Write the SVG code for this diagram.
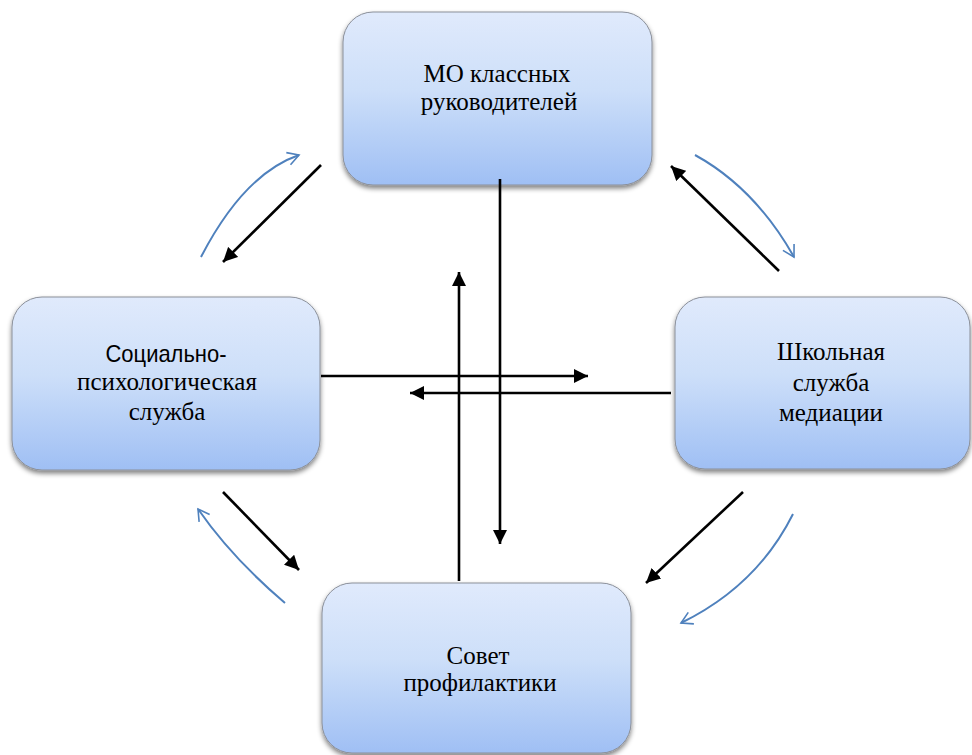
<svg xmlns="http://www.w3.org/2000/svg" width="972" height="755" viewBox="0 0 972 755">
<defs>
<linearGradient id="g" x1="0" y1="0" x2="0" y2="1">
<stop offset="0" stop-color="#e0eafc"/>
<stop offset="0.45" stop-color="#cddff9"/>
<stop offset="1" stop-color="#9fbff4"/>
</linearGradient>
<filter id="sh" x="-10%" y="-10%" width="120%" height="125%">
<feGaussianBlur in="SourceAlpha" stdDeviation="2.5"/>
<feOffset dx="0" dy="3" result="b"/>
<feComponentTransfer><feFuncA type="linear" slope="0.5"/></feComponentTransfer>
<feMerge><feMergeNode/><feMergeNode in="SourceGraphic"/></feMerge>
</filter>
<marker id="ah" viewBox="0 0 10 10" refX="10" refY="5" markerWidth="5.5" markerHeight="5.5" markerUnits="strokeWidth" orient="auto">
<path d="M0,0 L10,5 L0,10 Z" fill="#000"/>
</marker>
<marker id="oh" viewBox="0 0 20 20" refX="18" refY="10" markerWidth="16" markerHeight="16" markerUnits="userSpaceOnUse" orient="auto">
<path d="M4,2 L18,10 L4,18" fill="none" stroke="#4f81bd" stroke-width="2"/>
</marker>
</defs>
<style>
.box{fill:url(#g);stroke:#8a8f99;stroke-width:1;filter:url(#sh)}
.k{stroke:#000;stroke-width:2.6;fill:none;marker-end:url(#ah)}
.b{stroke:#4f81bd;stroke-width:2;fill:none;marker-end:url(#oh)}
</style>
<rect width="972" height="755" fill="#fff"/>
<g id="node-mo" font-family="'Liberation Serif', 'Times New Roman', serif" font-size="25" text-anchor="middle" fill="#000">
<rect class="box" x="343" y="12" width="309" height="173" rx="30"/>
<text x="497" y="82">МО классных</text>
<text x="499" y="110">руководителей</text>
</g>
<g id="node-social" font-family="'Liberation Serif', 'Times New Roman', serif" font-size="25" text-anchor="middle" fill="#000">
<rect class="box" x="12" y="297" width="308" height="173" rx="30"/>
<text x="166" y="362" font-family="'Liberation Sans', Arial, sans-serif" font-size="24" textLength="121" lengthAdjust="spacingAndGlyphs">Социально-</text>
<text x="167" y="390">психологическая</text>
<text x="167" y="420">служба</text>
</g>
<g id="node-mediation" font-family="'Liberation Serif', 'Times New Roman', serif" font-size="25" text-anchor="middle" fill="#000">
<rect class="box" x="675" y="297" width="295" height="172" rx="30"/>
<text x="831" y="360">Школьная</text>
<text x="831" y="391">служба</text>
<text x="831" y="421">медиации</text>
</g>
<g id="node-council" font-family="'Liberation Serif', 'Times New Roman', serif" font-size="25" text-anchor="middle" fill="#000">
<rect class="box" x="322" y="583" width="309" height="170" rx="30"/>
<text x="478" y="664">Совет</text>
<text x="480" y="691">профилактики</text>
</g>
<g id="connectors">
<line class="k" x1="500" y1="179" x2="500" y2="544"/>
<line class="k" x1="459" y1="581" x2="459" y2="272"/>
<line class="k" x1="321" y1="376" x2="588" y2="376"/>
<line class="k" x1="671" y1="393" x2="410" y2="393"/>
<line class="k" x1="321" y1="165" x2="223" y2="262"/>
<line class="k" x1="779" y1="271" x2="671" y2="166"/>
<line class="k" x1="223" y1="492" x2="299" y2="570"/>
<line class="k" x1="743" y1="492" x2="646" y2="583"/>
<path class="b" d="M201,257 Q244,174 299,155"/>
<path class="b" d="M695,155 Q755,188 794,257"/>
<path class="b" d="M285,603 Q232,558 198,509"/>
<path class="b" d="M793,514 Q757,586 681,623"/>
</g>
</svg>
